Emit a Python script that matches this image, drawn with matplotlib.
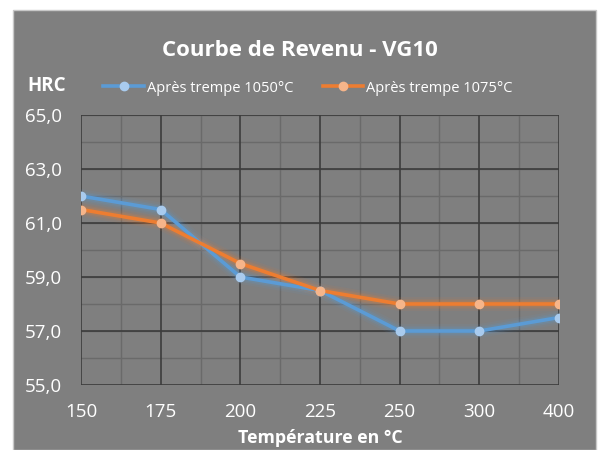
import matplotlib
matplotlib.use("Agg")
import matplotlib.pyplot as plt
from matplotlib.patches import Rectangle
import numpy as np

categories = ["150", "175", "200", "225", "250", "300", "400"]
serie_1050 = [62.0, 61.5, 59.0, 58.5, 57.0, 57.0, 57.5]
serie_1075 = [61.5, 61.0, 59.5, 58.5, 58.0, 58.0, 58.0]
label_1050 = "Après trempe 1050°C"
label_1075 = "Après trempe 1075°C"
yticks = [55, 57, 59, 61, 63, 65]

FONT = ["Open Sans", "DejaVu Sans"]
plt.rcParams['font.family'] = FONT

BG = "#7f7f7f"
fig = plt.figure(figsize=(5.98, 4.5), dpi=100)
fig.patch.set_facecolor("white")
fig.add_artist(Rectangle((13/598, 0), (596-13)/598, 1-10/450, transform=fig.transFigure,
                         facecolor=BG, edgecolor="#c8c8c8", lw=1, zorder=0))

ax = fig.add_axes([81/598, 1-385/450, (559-81)/598, (385-115)/450])
ax.set_facecolor(BG)
x = np.arange(len(categories))

# minor grid
for v in np.arange(55, 65.01, 1):
    ax.axhline(v, color="#6a6a6a", lw=1, zorder=1)
for xv in np.arange(0, len(categories)-1, 1) + 0.5:
    ax.axvline(xv, color="#6a6a6a", lw=1, zorder=1)
# major grid
for v in yticks:
    ax.axhline(v, color="#3c3c3c", lw=1.2, zorder=2)
for xv in x:
    ax.axvline(xv, color="#3c3c3c", lw=1.2, zorder=2)

series = [(serie_1050, "#5b9bd5", "#a9cbee", label_1050),
          (serie_1075, "#ed7d31", "#f6b58a", label_1075)]
for vals, col, mcol, lab in series:
    for w, a in [(10, 0.08), (7, 0.12), (5, 0.18)]:
        ax.plot(x, vals, color=col, lw=w, alpha=a, solid_capstyle="round", zorder=3)
    ax.plot(x, vals, color=col, lw=2.6, zorder=4, marker="o", markersize=6,
            markerfacecolor=mcol, markeredgecolor=mcol, label=lab)

ax.set_xlim(0, len(categories)-1)
ax.set_ylim(55, 65)
ax.set_xticks(x)
ax.set_xticklabels(categories)
ax.set_yticks(yticks)
ax.set_yticklabels([f"{v:.1f}".replace(".", ",") for v in yticks])
ax.tick_params(axis="both", length=0, colors="white", labelsize=13.5)
ax.tick_params(axis="x", pad=13)
ax.tick_params(axis="y", pad=14)
for s in ax.spines.values():
    s.set_visible(False)

fig.text(300/598, 1-50/450, "Courbe de Revenu - VG10", ha="center", va="center",
         color="white", fontsize=16, fontweight="bold")
fig.text(47/598, 1-86/450, "HRC", ha="center", va="center", color="white",
         fontsize=13.5, fontweight="bold")
fig.text(320/598, 1-438/450, "Température en °C", ha="center", va="center",
         color="white", fontsize=12.8, fontweight="bold")

leg = ax.legend(loc="center", bbox_to_anchor=(308/598, 1-88/450), bbox_transform=fig.transFigure,
                ncol=2, frameon=False, fontsize=10.5, handlelength=2.8, handletextpad=0.2,
                columnspacing=2.0)
for t in leg.get_texts():
    t.set_color("white")

fig.savefig("out.png", dpi=100, facecolor=fig.get_facecolor())
